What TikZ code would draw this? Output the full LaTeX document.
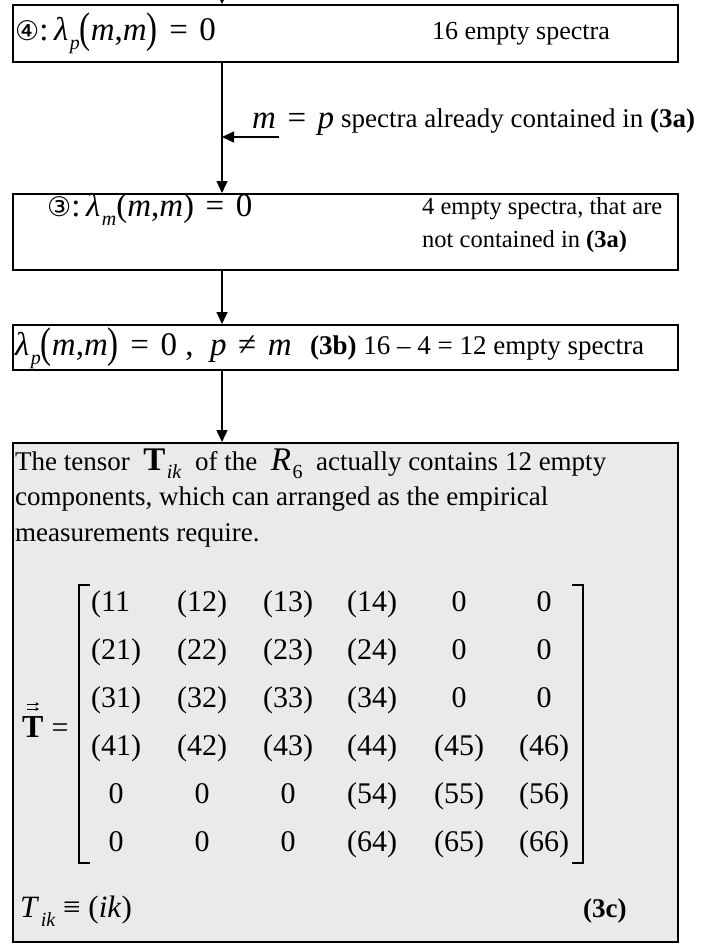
\documentclass[tikz,border=0pt]{standalone}
\usepackage{fontspec}
\usepackage{graphicx}
\setmainfont{Liberation Serif}
\newfontfamily\circfont{DejaVu Sans}
\usetikzlibrary{arrows.meta,calc}
\definecolor{boxgray}{HTML}{EAEAEA}
\newcommand{\txt}{\fontsize{26}{35}\selectfont}
\newcommand{\txtb}{\fontsize{27}{36}\selectfont}
\newcommand{\txtc}{\fontsize{24.5}{33}\selectfont}
\newcommand{\mth}{\fontsize{33}{38}\selectfont}
\newcommand{\eqs}[1][=]{\hspace{0.35em}#1\hspace{0.35em}}
\newcommand{\subs}[1]{\kern1.5pt\raisebox{-0.3em}{\fontsize{20}{20}\selectfont #1}}
\newcommand{\bigp}[1]{\raisebox{-0.08em}{\scalebox{1}[1.3]{#1}}}
\begin{document}
\begin{tikzpicture}[x=1pt,y=-1pt,
  box/.style={draw, line width=1.6pt, inner sep=0pt, anchor=north west, minimum width=665pt},
  arr/.style={line width=1.4pt, -{Triangle[length=12pt,width=11pt]}},
  lbl/.style={inner sep=0pt, anchor=base west},
  ent/.style={inner sep=0pt, anchor=base, font=\fontsize{30}{36}\selectfont},
  brk/.style={line width=1.3pt}]
\fill[white] (0,0) rectangle (706,946);
\useasboundingbox (0,0) rectangle (706,946);

% boxes
\node[box, minimum height=57pt] (b1) at (12,4) {};
\node[box, minimum height=76pt] (b2) at (12,193) {};
\node[box, minimum height=45pt] (b3) at (12,324) {};
\node[box, minimum height=499pt, fill=boxgray] (b4) at (12,442) {};

% connectors
\coordinate (top) at (222,0);
\coordinate (side) at (279,137);
\draw[arr] (top) -- (top |- b1.north);
\draw[arr] (b1.south -| top) -- (b2.north -| top);
\draw[arr] (side) -- (side -| top);
\draw[arr] (b2.south -| top) -- (b3.north -| top);
\draw[arr] (b3.south -| top) -- (b4.north -| top);

% box 1
\node[lbl] (t1a) at (15,40) {\mth{\circfont\fontsize{27}{27}\selectfont ④}:\,\textit{λ}\subs{\textit{p}}\bigp{(}\textit{m},\textit{m}\bigp{)}\eqs 0};
\node[lbl] (t1b) at (432,39) {\txt 16 empty spectra};

% side label
\node[lbl] (sl) at (252,128) {\mth\textit{m}\eqs\textit{p}};
\node[lbl] (sl2) at (341,127) {\txtb spectra already contained in \textbf{(3a)}};

% box 2
\node[lbl] (t2a) at (47,216) {\mth{\circfont\fontsize{27}{27}\selectfont ③}:\,\textit{λ}\subs{\textit{m}}(\textit{m},\textit{m})\eqs 0};
\node[lbl] (t2b) at (422,214) {\txtc 4 empty spectra, that are};
\node[lbl] (t2c) at (422,247) {\txtc not contained in \textbf{(3a)}};

% box 3
\node[lbl] (t3) at (15,355) {\mth\textit{λ}\subs{\textit{p}}\bigp{(}\textit{m},\textit{m}\bigp{)}\eqs 0 , \ \textit{p}\eqs[≠]\textit{m}};
\node[lbl] (t3b) at (310,354) {\txtb\textbf{(3b)} 16 – 4 = 12 empty spectra};

% box 4 text
\node[lbl] (t4a) at (15,470) {\txtb The tensor \ {\mth\textbf{T}}\subs{\textit{ik}} \ of the \ {\mth\textit{R}}\subs{6} \ actually contains 12 empty};
\node[lbl] (t4b) at (15,505) {\txtb components, which can arranged as the empirical};
\node[lbl] (t4c) at (15,541) {\txtb measurements require.};

% matrix
\node[lbl] (vt) at (22,737) {\fontsize{32}{36}\selectfont\textbf{T} {\fontsize{30}{36}\selectfont=}};
\draw[line width=0.8pt, -{Stealth[length=3.5pt,width=3.5pt]}] ($(vt.base west)+(5,-33)$) -- ($(vt.base west)+(17,-33)$);
\draw[line width=0.8pt, -{Stealth[length=3.5pt,width=3.5pt]}] ($(vt.base west)+(5,-28)$) -- ($(vt.base west)+(17,-28)$);

\coordinate (bl) at (79,585);
\coordinate (br) at (583,863);
\draw[brk] ($(bl)+(11,0)$) -- (bl) -- (bl |- br) -- ($(bl |- br)+(11,0)$);
\draw[brk] ($(br |- bl)+(-11,0)$) -- (br |- bl) -- (br) -- ($(br)+(-11,0)$);

\node[ent, anchor=base west] (m11) at (91,611) {(11};
\foreach \c/\x/\t in {2/202/(12), 3/288/(13), 4/372/(14), 5/459/0, 6/544/0}
  \node[ent] (m1\c) at (\x,611) {\t};
\foreach \r/\y in {2/659, 3/707}
  \foreach \c/\x/\t in {1/116/(\r1), 2/202/(\r2), 3/288/(\r3), 4/372/(\r4), 5/459/0, 6/544/0}
    \node[ent] (m\r\c) at (\x,\y) {\t};
\foreach \c/\x/\t in {1/116/(41), 2/202/(42), 3/288/(43), 4/372/(44), 5/459/(45), 6/544/(46)}
  \node[ent] (m4\c) at (\x,755) {\t};
\foreach \r/\y in {5/803, 6/851}
  \foreach \c/\x/\t in {1/116/0, 2/202/0, 3/288/0, 4/372/(\r4), 5/459/(\r5), 6/544/(\r6)}
    \node[ent] (m\r\c) at (\x,\y) {\t};

% bottom
\node[lbl] (t5) at (20,917) {\fontsize{31}{36}\selectfont\textit{T}\subs{\textit{ik}} ≡ (\textit{ik})};
\node[lbl] (t6) at (583,917) {\txtb\textbf{(3c)}};
\end{tikzpicture}
\end{document}
